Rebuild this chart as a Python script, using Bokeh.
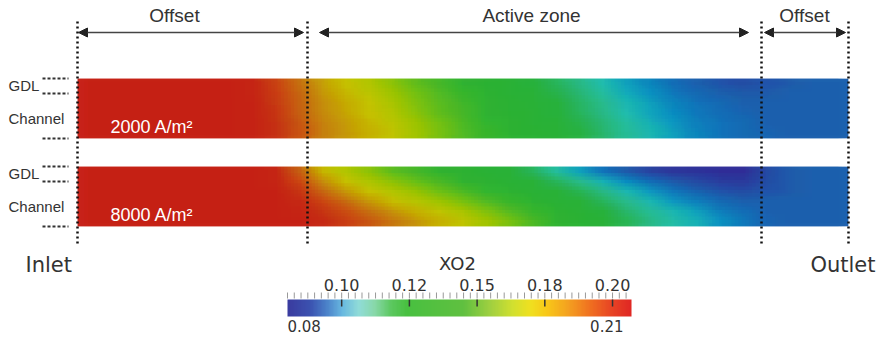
import numpy as np
from bokeh.plotting import figure
from bokeh.models import Range1d, Arrow, NormalHead, LinearColorMapper
from bokeh.core.properties import value
from bokeh.embed import file_html
from bokeh.resources import INLINE

# ---------------- data ----------------
CB_LOW = 0.08
CB_HIGH = 0.207
CB_TITLE = "XO2"
CB_TICKS = [0.10, 0.125, 0.15, 0.175, 0.20]
CB_TICK_LABELS = ["0.10", "0.12", "0.15", "0.18", "0.20"]
CB_END_LABELS = ["0.08", "0.21"]
CASE_LABELS = ["2000 A/m²", "8000 A/m²"]
ZONE_LABELS = ["Offset", "Active zone", "Offset"]
LAYER_LABELS = ["GDL", "Channel"]
END_LABELS = ["Inlet", "Outlet"]

# XO2 field: 6 rows (GDL top -> channel bottom) x 33 columns (inlet -> outlet)
XO2_2000 = [
    [0.207]*7 + [0.205, 0.197, 0.186, 0.176, 0.170, 0.165, 0.158, 0.151, 0.145, 0.139, 0.133, 0.128, 0.123,
                 0.118, 0.113, 0.108, 0.103, 0.099, 0.095, 0.092, 0.090, 0.089, 0.090, 0.091, 0.092, 0.092],
    [0.207]*7 + [0.205, 0.198, 0.188, 0.178, 0.172, 0.167, 0.161, 0.154, 0.148, 0.142, 0.136, 0.130, 0.125,
                 0.120, 0.115, 0.110, 0.105, 0.101, 0.097, 0.094, 0.092, 0.091, 0.091, 0.092, 0.092, 0.092],
    [0.207]*7 + [0.206, 0.199, 0.189, 0.180, 0.174, 0.169, 0.163, 0.156, 0.150, 0.144, 0.138, 0.132, 0.127,
                 0.122, 0.117, 0.112, 0.107, 0.103, 0.099, 0.096, 0.094, 0.092, 0.092, 0.092, 0.092, 0.092],
    [0.207]*7 + [0.206, 0.200, 0.190, 0.181, 0.175, 0.170, 0.165, 0.158, 0.151, 0.145, 0.139, 0.133, 0.128,
                 0.123, 0.118, 0.113, 0.108, 0.104, 0.100, 0.097, 0.095, 0.093, 0.092, 0.092, 0.092, 0.092],
    [0.207]*7 + [0.206, 0.201, 0.192, 0.183, 0.177, 0.172, 0.167, 0.161, 0.154, 0.147, 0.141, 0.135, 0.130,
                 0.125, 0.120, 0.115, 0.110, 0.106, 0.102, 0.098, 0.096, 0.094, 0.092, 0.092, 0.092, 0.092],
    [0.207]*7 + [0.206, 0.201, 0.193, 0.184, 0.178, 0.173, 0.168, 0.162, 0.155, 0.148, 0.142, 0.136, 0.131,
                 0.126, 0.121, 0.116, 0.111, 0.107, 0.103, 0.099, 0.096, 0.094, 0.093, 0.092, 0.092, 0.092],
]
XO2_8000 = [
    [0.207]*8 + [0.204, 0.190, 0.172, 0.165, 0.158, 0.150, 0.145, 0.140, 0.135, 0.130, 0.125, 0.118, 0.110,
                 0.103, 0.096, 0.091, 0.087, 0.084, 0.083, 0.082, 0.082, 0.088, 0.091, 0.092, 0.092],
    [0.207]*8 + [0.205, 0.196, 0.180, 0.170, 0.164, 0.158, 0.152, 0.146, 0.140, 0.135, 0.130, 0.125, 0.118,
                 0.112, 0.106, 0.100, 0.095, 0.091, 0.088, 0.086, 0.085, 0.089, 0.091, 0.092, 0.092],
    [0.207]*9 + [0.200, 0.188, 0.178, 0.170, 0.165, 0.160, 0.153, 0.147, 0.141, 0.136, 0.130, 0.125, 0.119,
                 0.113, 0.107, 0.102, 0.097, 0.093, 0.090, 0.089, 0.090, 0.091, 0.092, 0.092],
    [0.207]*9 + [0.203, 0.196, 0.187, 0.178, 0.171, 0.166, 0.161, 0.155, 0.148, 0.142, 0.136, 0.130, 0.124,
                 0.118, 0.112, 0.107, 0.102, 0.098, 0.094, 0.092, 0.092, 0.092, 0.092, 0.092],
    [0.207]*9 + [0.205, 0.200, 0.194, 0.186, 0.179, 0.173, 0.168, 0.163, 0.156, 0.149, 0.142, 0.136, 0.129,
                 0.122, 0.116, 0.111, 0.107, 0.103, 0.098, 0.095, 0.092, 0.092, 0.092, 0.092],
    [0.207]*10 + [0.203, 0.198, 0.192, 0.185, 0.179, 0.173, 0.168, 0.162, 0.155, 0.147, 0.140, 0.132, 0.125,
                  0.119, 0.113, 0.109, 0.106, 0.101, 0.097, 0.093, 0.092, 0.092, 0.092],
]

# ---------------- colour maps (style) ----------------
STRIP_STOPS = [
    (0.080, "#38309a"), (0.085, "#3540a0"), (0.089, "#2a55a8"), (0.092, "#2466b0"),
    (0.096, "#1878bc"), (0.100, "#1090c0"), (0.104, "#18aabf"), (0.108, "#28c0b0"),
    (0.112, "#30bc90"), (0.117, "#30b868"), (0.122, "#30b440"), (0.140, "#38b638"),
    (0.150, "#60be28"), (0.158, "#90c410"), (0.165, "#b4c800"), (0.170, "#c8c400"),
    (0.176, "#c8a410"), (0.182, "#c88a14"), (0.188, "#c86c18"), (0.196, "#cc4c1a"),
    (0.203, "#c8301e"), (0.207, "#c8281e"),
]
BAR_STOPS = [
    (0.080, "#3a3ca0"), (0.088, "#3b52b0"), (0.094, "#4a80c8"), (0.100, "#68b8e0"),
    (0.106, "#90dcd8"), (0.112, "#88d8a8"), (0.118, "#5cc860"), (0.124, "#48c040"),
    (0.145, "#60c040"), (0.155, "#a0d040"), (0.163, "#d0e030"), (0.170, "#f0e020"),
    (0.176, "#f8c818"), (0.184, "#f4a020"), (0.192, "#f07020"), (0.200, "#e84424"),
    (0.207, "#e02824"),
]


def make_palette(stops, n=256):
    vs = np.array([s[0] for s in stops])
    rgb = np.array([[int(c[i:i + 2], 16) for i in (1, 3, 5)] for _, c in stops], dtype=float)
    grid = np.linspace(vs[0], vs[-1], n)
    out = []
    for g in grid:
        r, gg, b = (np.interp(g, vs, rgb[:, k]) for k in range(3))
        out.append("#%02x%02x%02x" % (int(round(r)), int(round(gg)), int(round(b))))
    return out


strip_mapper = LinearColorMapper(palette=make_palette(STRIP_STOPS), low=CB_LOW, high=CB_HIGH)
bar_mapper = LinearColorMapper(palette=make_palette(BAR_STOPS), low=CB_LOW, high=CB_HIGH)

# ---------------- layout (picture pixel coordinates) ----------------
W, H = 876, 334
STRIP_X0, STRIP_X1 = 77, 848
STRIP_TOPS = [78, 166]
STRIP_H = 60
GDL_H = 15
ZONE_X = [77, 307, 761, 848]
CB_X0, CB_X1 = 287, 631
CB_Y0, CB_Y1 = 299, 316

p = figure(width=W, height=H, x_range=Range1d(0, W), y_range=Range1d(H, 0),
           output_backend="svg", toolbar_location=None, min_border=0,
           x_axis_location=None, y_axis_location=None)
p.grid.visible = False
p.outline_line_color = None
p.background_fill_color = "white"
p.border_fill_color = "white"

k = (CB_HIGH - CB_LOW) / (CB_X1 - CB_X0)
p.extra_x_ranges = {"cb": Range1d(CB_LOW - CB_X0 * k, CB_LOW + (W - CB_X0) * k)}

# strips: the same cell image is laid several times at sub-cell offsets with
# alpha 1/n, which averages them and softens the cell edges (display only)
NX_SUB, NY_SUB = 7, 3
offsets = [(0, 0)] + [(i, j) for i in range(-(NX_SUB // 2), NX_SUB // 2 + 1)
                      for j in range(-(NY_SUB // 2), NY_SUB // 2 + 1) if (i, j) != (0, 0)]
for field, top in zip([XO2_2000, XO2_8000], STRIP_TOPS):
    arr = np.array(field, dtype=float)
    assert arr.shape == (6, 33), arr.shape
    cw = (STRIP_X1 - STRIP_X0) / arr.shape[1]
    ch = STRIP_H / arr.shape[0]
    for n, (i, j) in enumerate(offsets, start=1):
        p.image(image=[arr], x=STRIP_X0 + i * cw / NX_SUB, y=top + j * ch / NY_SUB,
                dw=STRIP_X1 - STRIP_X0, dh=STRIP_H, color_mapper=strip_mapper,
                global_alpha=1.0 / n)
    # trim the sub-cell overhang back to the strip outline
    pad_x, pad_y = cw / 2 + 1, ch / 2 + 1
    p.quad(left=[STRIP_X0 - pad_x, STRIP_X1, STRIP_X0 - pad_x, STRIP_X0 - pad_x],
           right=[STRIP_X0, STRIP_X1 + pad_x, STRIP_X1 + pad_x, STRIP_X1 + pad_x],
           top=[top - pad_y, top - pad_y, top - pad_y, top + STRIP_H],
           bottom=[top + STRIP_H + pad_y, top + STRIP_H + pad_y, top, top + STRIP_H + pad_y],
           fill_color="white", line_color=None)

# case labels
p.text(x=[110, 110], y=[t + 48 for t in STRIP_TOPS], text=CASE_LABELS, text_color="white",
       text_font=value("Liberation Sans"), text_font_size="18px", text_baseline="middle")

# layer labels and dashes
lx, ly, lt = [], [], []
for t in STRIP_TOPS:
    lx += [8, 8]
    ly += [t + 7, t + 40]
    lt += LAYER_LABELS
p.text(x=lx, y=ly, text=lt, text_color="#333333", text_font=value("Liberation Sans"),
       text_font_size="15px", text_baseline="middle")
dy = []
for t in STRIP_TOPS:
    dy += [t, t + GDL_H, t + STRIP_H]
p.segment(x0=[42] * len(dy), y0=dy, x1=[68] * len(dy), y1=dy, line_color="#333333",
          line_width=2, line_dash="3 2")

# zone separators
p.segment(x0=ZONE_X, y0=[21] * 4, x1=ZONE_X, y1=[243] * 4, line_color="#111111",
          line_width=2.5, line_dash="2 3")

# zone arrows
arrows = [(78, 303), (319, 748), (764, 845)]
for a, b in arrows:
    p.add_layout(Arrow(start=NormalHead(size=9, fill_color="#222222", line_color="#222222"),
                       end=NormalHead(size=9, fill_color="#222222", line_color="#222222"),
                       x_start=a, y_start=32, x_end=b, y_end=32,
                       line_color="#444444", line_width=1.5))
p.text(x=[174, 531, 804], y=[15, 15, 15], text=ZONE_LABELS, text_color="#333333",
       text_font=value("Liberation Sans"), text_font_size="19px", text_align="center",
       text_baseline="middle")

# inlet / outlet
p.text(x=[25, 875], y=[264, 264], text=END_LABELS, text_color="#333333",
       text_font=value("DejaVu Sans"), text_font_size="21px", text_align=["left", "right"],
       text_baseline="middle")

# colour bar
p.image(image=[np.linspace(CB_LOW, CB_HIGH, 344)[None, :]], x=CB_LOW, y=CB_Y0,
        dw=CB_HIGH - CB_LOW, dh=CB_Y1 - CB_Y0, color_mapper=bar_mapper, x_range_name="cb")
minor = list(np.arange(CB_LOW, CB_HIGH + 1e-9, 0.0025))
p.segment(x0=minor, y0=[292] * len(minor), x1=minor, y1=[298] * len(minor),
          line_color="#999999", line_width=1, x_range_name="cb")
p.segment(x0=CB_TICKS, y0=[299] * 5, x1=CB_TICKS, y1=[306] * 5,
          line_color="#333333", line_width=1.5, x_range_name="cb")
p.text(x=CB_TICKS, y=[284] * 5, text=CB_TICK_LABELS, text_color="#333333",
       text_font=value("DejaVu Sans"), text_font_size="16px", text_align="center",
       text_baseline="middle", x_range_name="cb")
p.text(x=[457], y=[263], text=[CB_TITLE], text_color="#333333",
       text_font=value("DejaVu Sans"), text_font_size="18px", text_align="center",
       text_baseline="middle")
p.text(x=[287, 623], y=[325, 325], text=CB_END_LABELS, text_color="#333333",
       text_font=value("DejaVu Sans"), text_font_size="15px", text_align=["left", "right"],
       text_baseline="middle")

open("out.html", "w").write(file_html(p, INLINE))
